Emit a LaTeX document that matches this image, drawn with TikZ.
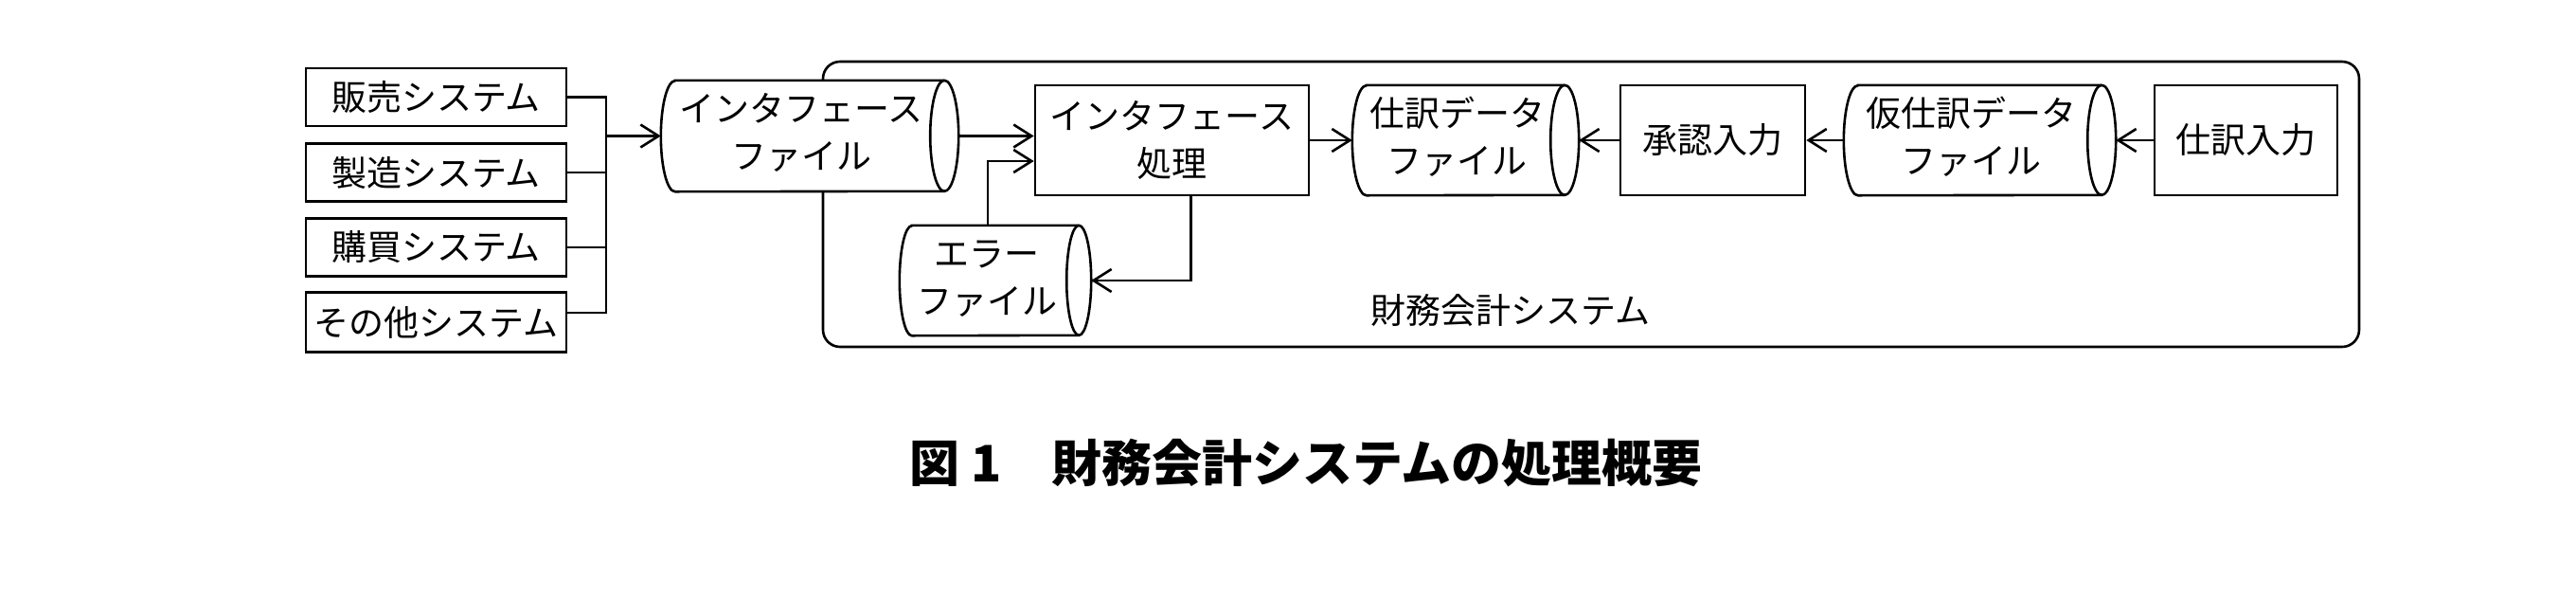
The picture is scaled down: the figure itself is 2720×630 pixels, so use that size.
\documentclass[tikz,border=0pt]{standalone}
\usepackage{fontspec}
\newfontfamily\jp{Noto Sans CJK JP}
\usetikzlibrary{arrows.meta,calc}
\tikzset{
  lw/.style={line width=2.6pt},
  txt/.style={font=\jp\fontsize{37}{50}\selectfont},
  box/.style={draw, lw, rectangle, inner sep=0pt, align=center, txt},
  cylnode/.style={rectangle, inner sep=0pt, txt, fill=white},
  arr/.style={lw, -{Straight Barb[length=19pt,width=24pt]}},
  conn/.style={lw}
}
\newcommand\ct[1]{\begin{tabular}{@{}c@{\hspace{18pt}}}#1\end{tabular}}
\newcommand\drawcyl[3]{% name, rx, half height
  \draw[lw] ($(#1.north west)+(#2,0)$) -- ($(#1.north east)+(-#2,0)$)
    arc[start angle=90,end angle=-90,x radius=#2pt,y radius=#3pt]
    -- ($(#1.south west)+(#2,0)$)
    arc[start angle=270,end angle=90,x radius=#2pt,y radius=#3pt] -- cycle;
  \draw[lw] ($(#1.north east)+(-#2,0)$)
    arc[start angle=90,end angle=270,x radius=#2pt,y radius=#3pt];
}
\begin{document}
\begin{tikzpicture}[x=1pt,y=-1pt]
\useasboundingbox (0,0) rectangle (2720,630);
% frame
\node[draw, lw, rounded corners=18pt, minimum width=1622pt, minimum height=301pt, inner sep=0pt] (frame) at (1680,215.5) {};
\node[txt] (sysl) at (1595,327) {財務会計システム};
% left boxes
\node[box, minimum width=275pt, minimum height=61pt] (b1) at (460.5,102.5) {販売システム};
\node[box, minimum width=275pt, minimum height=61pt] (b2) at (460.5,182) {製造システム};
\node[box, minimum width=275pt, minimum height=61pt] (b3) at (460.5,261) {購買システム};
\node[box, minimum width=275pt, minimum height=63pt] (b4) at (460.5,340) {その他システム};
% interface file
\node[cylnode, minimum width=314pt, minimum height=117pt] (iff) at (855,143.5) {\ct{インタフェース\\ファイル}};
\drawcyl{iff}{15}{58.5}
% process
\node[box, minimum width=289pt, minimum height=116pt] (proc) at (1237.5,148) {インタフェース\\処理};
% journal data file
\node[cylnode, minimum width=239pt, minimum height=116pt] (jf) at (1547.5,148) {\ct{仕訳データ\\ファイル}};
\drawcyl{jf}{15}{58}
% approval
\node[box, minimum width=195pt, minimum height=116pt] (appr) at (1808.5,148) {承認入力};
% provisional file
\node[cylnode, minimum width=287pt, minimum height=116pt] (kf) at (2090.5,148) {\ct{仮仕訳データ\\ファイル}};
\drawcyl{kf}{15}{58}
% journal input
\node[box, minimum width=193pt, minimum height=116pt] (jin) at (2371.5,148) {仕訳入力};
% error file
\node[cylnode, minimum width=202pt, minimum height=116pt] (ef) at (1051,296) {\ct{エラー\\ファイル}};
\drawcyl{ef}{13}{58}
% caption
\node[font=\jp\bfseries\fontsize{53}{60}\selectfont] (cap) at (1379,489) {図 1　財務会計システムの処理概要};
% connectors
\coordinate (bus) at (640,143.5);
\draw[conn] (b1.east) -| (bus);
\draw[conn] ($(b4.east)+(0,-10)$) -| (bus);
\draw[conn] (b2.east) -- (b2.east -| bus);
\draw[conn] (b3.east) -- (b3.east -| bus);
\draw[arr] (bus) -- (iff.west);
\draw[arr] (iff.east) -- (iff.east -| proc.west);
\draw[arr] ($(ef.north)+(-8,0)$) |- ($(proc.west)+(0,22)$);
\draw[arr] ($(proc.south)+(20,0)$) |- (ef.east);
\draw[arr] (proc.east) -- (jf.west);
\draw[arr] (appr.west) -- (jf.east);
\draw[arr] (kf.west) -- (appr.east);
\draw[arr] (jin.west) -- (kf.east);
\end{tikzpicture}
\end{document}
